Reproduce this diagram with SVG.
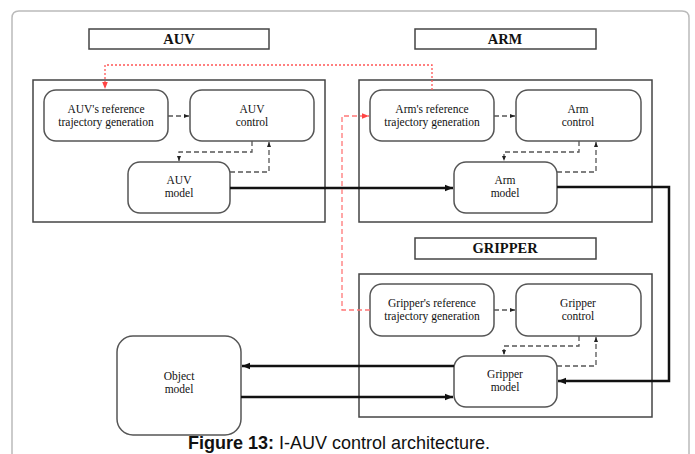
<svg xmlns="http://www.w3.org/2000/svg" width="695" height="454" viewBox="0 0 695 454">
<defs>
<marker id="ah" viewBox="0 0 10 10" refX="10" refY="5" markerWidth="5" markerHeight="5" orient="auto" markerUnits="userSpaceOnUse"><path d="M0,1 L10,5 L0,9 Z" fill="#222"/></marker>
<marker id="ahb" viewBox="0 0 10 10" refX="10" refY="5" markerWidth="10" markerHeight="8" orient="auto" markerUnits="userSpaceOnUse"><path d="M0,1 L10,5 L0,9 Z" fill="#111"/></marker>
<marker id="ahr" viewBox="0 0 10 10" refX="10" refY="5" markerWidth="9" markerHeight="7" orient="auto" markerUnits="userSpaceOnUse"><path d="M0,1 L10,5 L0,9 Z" fill="#f44"/></marker>
</defs>
<style>
.frame{fill:#fff;stroke:#bbb;stroke-width:1.5}
.lbl{fill:#fff;stroke:#444;stroke-width:1.5}
.lt{font-family:"Liberation Serif",serif;font-weight:bold;font-size:14.5px;fill:#111;text-anchor:middle}
.cont{fill:none;stroke:#444;stroke-width:1.5}
.node{fill:#fff;stroke:#555;stroke-width:1.5}
.nt{font-family:"Liberation Serif",serif;font-size:11.5px;fill:#111;text-anchor:middle}
.dash{fill:none;stroke:#555;stroke-width:1.3;stroke-dasharray:5,3}
.thick{fill:none;stroke:#111;stroke-width:2.5}
.rdot{fill:none;stroke:#f55;stroke-width:1.3;stroke-dasharray:2,2}
.rdash{fill:none;stroke:#f77;stroke-width:1.3;stroke-dasharray:5,3}
.cap{font-family:"Liberation Sans",Arial,sans-serif;font-size:18px;fill:#111;text-anchor:middle}
</style>
<rect width="695" height="454" fill="#fff"/>
<path class="frame" d="M12,470 L12,18 Q12,11 19,11 L682,11 Q689,11 689,18 L689,470"/>

<g id="auv-group">
<rect class="lbl" x="89" y="29" width="180" height="20"/>
<text class="lt" x="179" y="44">AUV</text>
<rect class="cont" x="33" y="80" width="292" height="142"/>
</g>
<g id="arm-group">
<rect class="lbl" x="415" y="29" width="181" height="20"/>
<text class="lt" x="505" y="44">ARM</text>
<rect class="cont" x="359" y="80" width="293" height="142"/>
</g>
<g id="gripper-group">
<rect class="lbl" x="415" y="238" width="181" height="21"/>
<text class="lt" x="505" y="253">GRIPPER</text>
<rect class="cont" x="359" y="274" width="293" height="143"/>
</g>

<g id="auv-ref">
<rect class="node" x="44" y="90" width="124" height="51" rx="12"/>
<text class="nt" x="106" y="113">AUV's reference</text>
<text class="nt" x="106" y="126">trajectory generation</text>
</g>
<g id="auv-control">
<rect class="node" x="190" y="90" width="124" height="51" rx="12"/>
<text class="nt" x="252" y="113">AUV</text>
<text class="nt" x="252" y="126">control</text>
</g>
<g id="auv-model">
<rect class="node" x="128" y="162" width="102" height="51" rx="12"/>
<text class="nt" x="179" y="184">AUV</text>
<text class="nt" x="179" y="197">model</text>
</g>

<g id="arm-ref">
<rect class="node" x="370" y="90" width="124" height="51" rx="12"/>
<text class="nt" x="432" y="113">Arm's reference</text>
<text class="nt" x="432" y="126">trajectory generation</text>
</g>
<g id="arm-control">
<rect class="node" x="516" y="90" width="125" height="51" rx="12"/>
<text class="nt" x="578" y="113">Arm</text>
<text class="nt" x="578" y="126">control</text>
</g>
<g id="arm-model">
<rect class="node" x="454" y="162" width="103" height="51" rx="12"/>
<text class="nt" x="505" y="184">Arm</text>
<text class="nt" x="505" y="197">model</text>
</g>

<g id="gripper-ref">
<rect class="node" x="370" y="284" width="124" height="52" rx="12"/>
<text class="nt" x="432" y="307">Gripper's reference</text>
<text class="nt" x="432" y="320">trajectory generation</text>
</g>
<g id="gripper-control">
<rect class="node" x="516" y="284" width="125" height="52" rx="12"/>
<text class="nt" x="578" y="307">Gripper</text>
<text class="nt" x="578" y="320">control</text>
</g>
<g id="gripper-model">
<rect class="node" x="454" y="356" width="103" height="51" rx="12"/>
<text class="nt" x="505" y="378">Gripper</text>
<text class="nt" x="505" y="391">model</text>
</g>

<g id="object-model">
<rect class="node" x="117" y="336" width="124" height="99" rx="16"/>
<text class="nt" x="179" y="380">Object</text>
<text class="nt" x="179" y="393">model</text>
</g>

<g id="connectors">
<path class="dash" d="M168,116 L189,116" marker-end="url(#ah)"/>
<path class="dash" d="M252,141 L252,152 L179,152 L179,161" marker-end="url(#ah)"/>
<path class="dash" d="M230,172 L269,172 L269,142" marker-end="url(#ah)"/>

<path class="dash" d="M494,116 L515,116" marker-end="url(#ah)"/>
<path class="dash" d="M579,141 L579,152 L504,152 L504,161" marker-end="url(#ah)"/>
<path class="dash" d="M557,172 L596,172 L596,142" marker-end="url(#ah)"/>

<path class="dash" d="M494,310 L515,310" marker-end="url(#ah)"/>
<path class="dash" d="M579,336 L579,346 L504,346 L504,355" marker-end="url(#ah)"/>
<path class="dash" d="M557,366 L596,366 L596,337" marker-end="url(#ah)"/>

<path class="thick" d="M230,188 L453,188" marker-end="url(#ahb)"/>
<path class="thick" d="M557,187 L669,187 L669,381 L558,381" marker-end="url(#ahb)"/>
<path class="thick" d="M454,366 L242,366" marker-end="url(#ahb)"/>
<path class="thick" d="M241,397 L453,397" marker-end="url(#ahb)"/>

<path class="rdot" d="M432,90 L432,65 L105,65 L105,89" marker-end="url(#ahr)"/>
<path class="rdash" d="M370,310 L342,310 L342,116 L369,116" marker-end="url(#ahr)"/>
</g>

<text class="cap" x="339" y="449"><tspan font-weight="bold">Figure 13:</tspan> I-AUV control architecture.</text>
</svg>
